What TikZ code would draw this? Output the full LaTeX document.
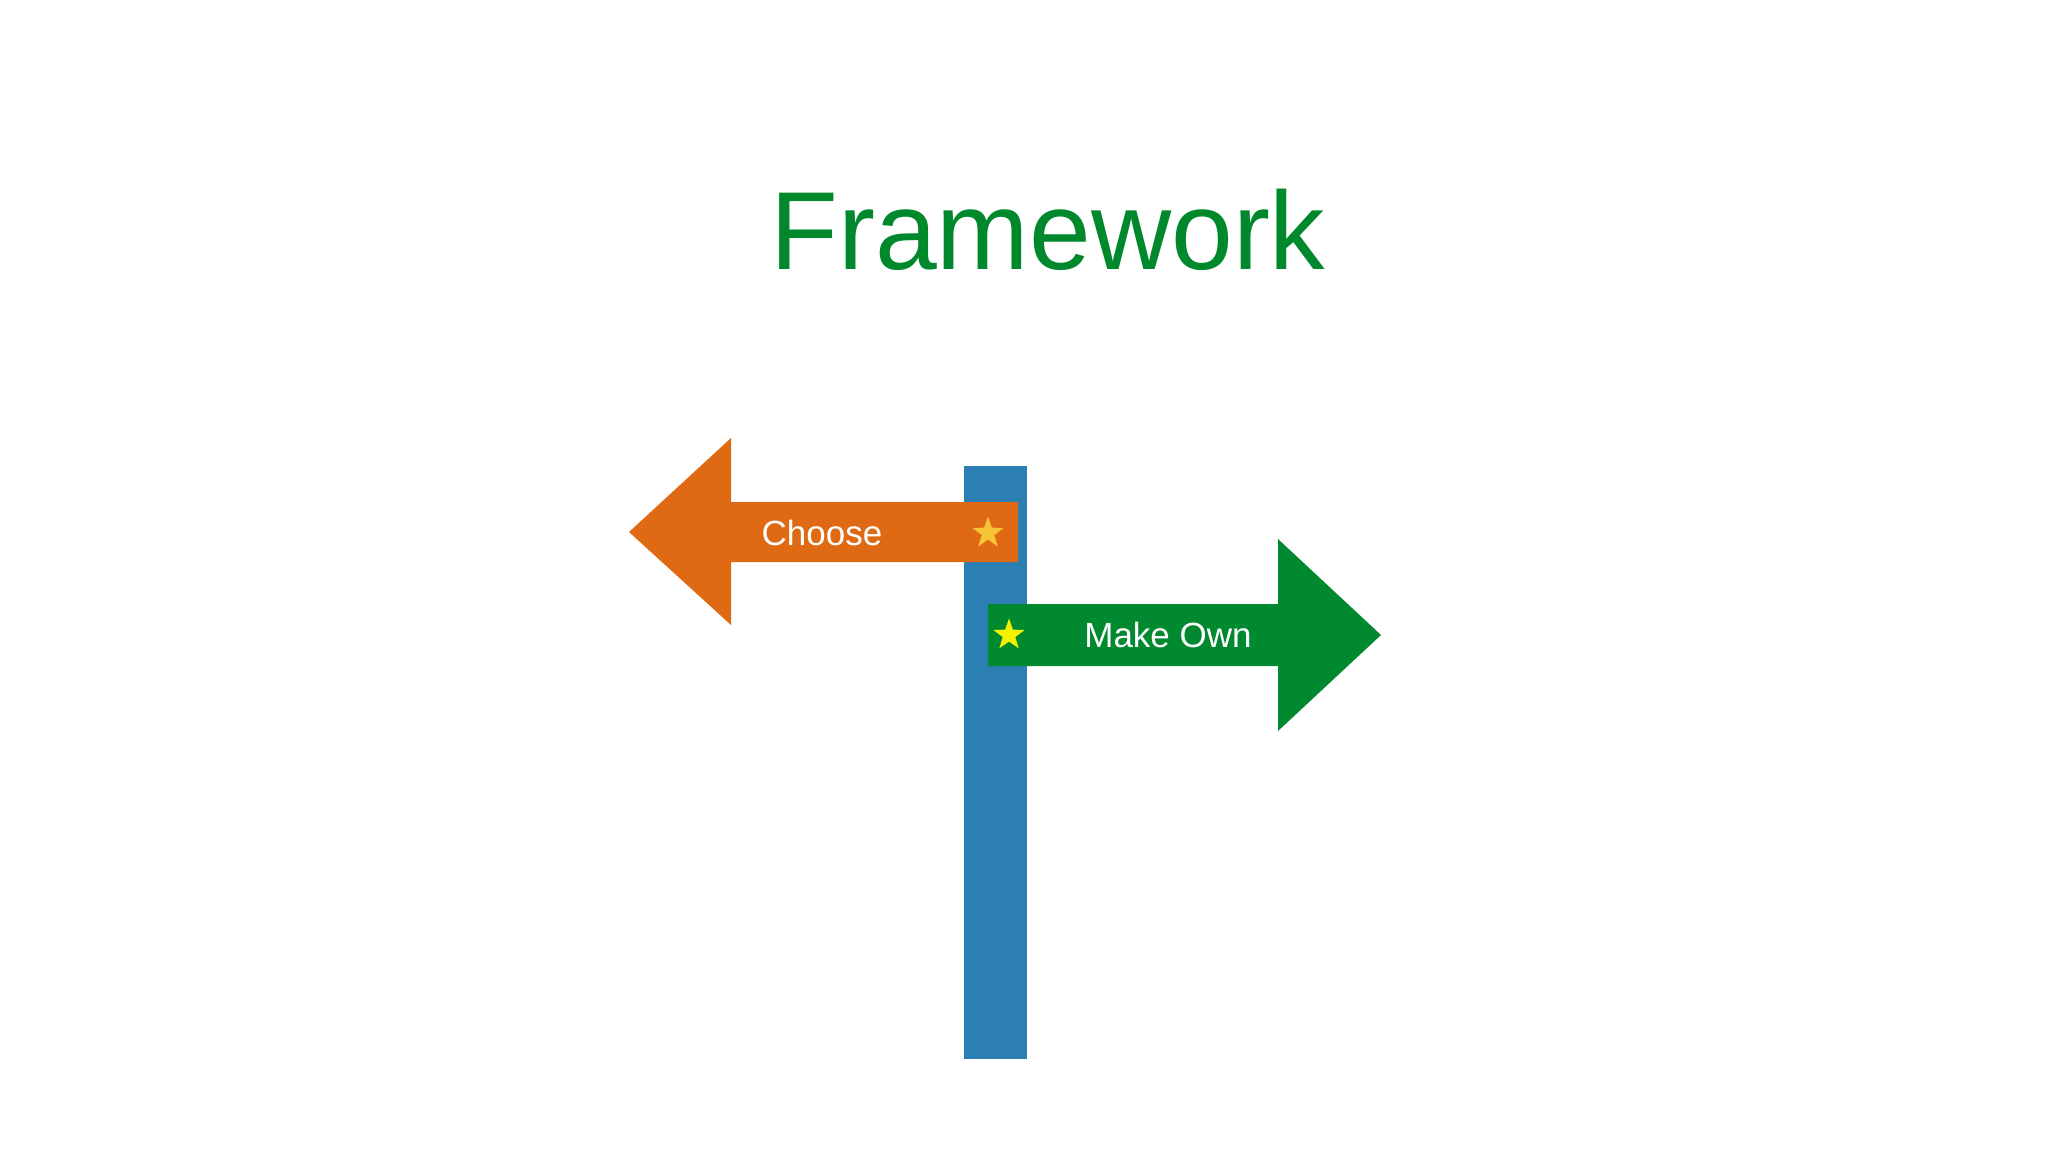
\documentclass[tikz,border=0pt]{standalone}
\usepackage{fontspec}
\setmainfont{Liberation Sans}
\usetikzlibrary{shapes.geometric}
\definecolor{poleblue}{RGB}{44,127,178}
\definecolor{signorange}{RGB}{224,105,19}
\definecolor{signgreen}{RGB}{0,137,46}
\definecolor{titlegreen}{RGB}{0,136,44}
\definecolor{stargold}{RGB}{247,196,56}
\definecolor{staryellow}{RGB}{244,240,0}
\tikzset{
  signtext/.style={text=white, font=\fontsize{35}{40}\selectfont, inner sep=0pt, anchor=center},
  signstar/.style={star, star points=5, star point ratio=2.5, minimum size=33pt, inner sep=0pt},
}
\begin{document}
\begin{tikzpicture}[x=1pt,y=-1pt]
\useasboundingbox (0,0) rectangle (2048,1152);
\fill[white] (0,0) rectangle (2048,1152);
% title
\node[text=titlegreen, font=\fontsize{111}{120}\selectfont, anchor=base, inner sep=0pt] (title) at (1048,269) {Framework};
% pole
\fill[poleblue] (964,466) rectangle (1027,1059);
\coordinate (pole) at (995,760);
% orange arrow
\fill[signorange] (629,532) -- (731,438) -- (731,502) -- (1018,502) -- (1018,562) -- (731,562) -- (731,625) -- cycle;
\node[signtext] (choose) at (822,533) {Choose};
\node[signstar, fill=stargold] (s1) at (988,533) {};
% green arrow
\fill[signgreen] (988,604) -- (1278,604) -- (1278,539) -- (1381,635) -- (1278,731) -- (1278,666) -- (988,666) -- cycle;
\node[signtext] (makeown) at (1168,635) {Make Own};
\node[signstar, fill=staryellow] (s2) at (1009,635) {};
\end{tikzpicture}
\end{document}
